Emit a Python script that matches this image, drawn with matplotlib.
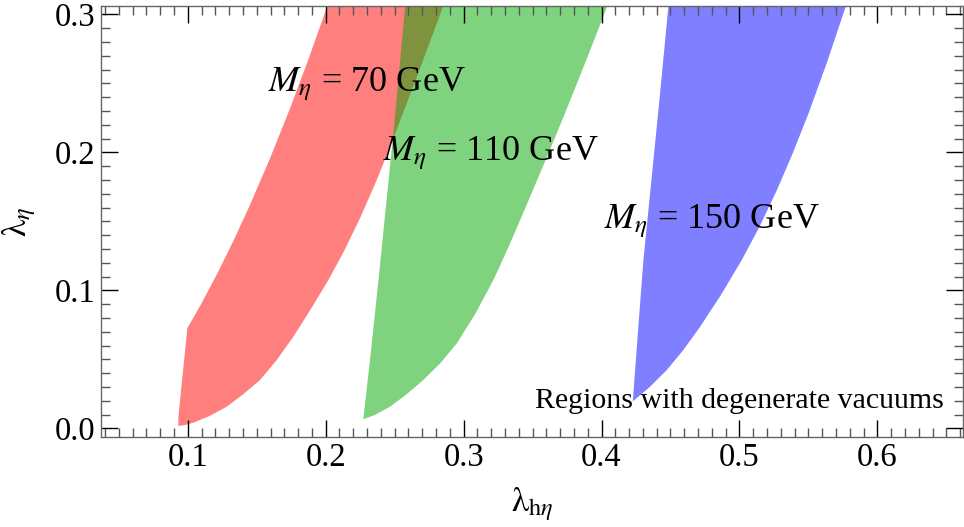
import matplotlib
matplotlib.use("Agg")
import matplotlib.pyplot as plt
from matplotlib.ticker import MultipleLocator, FormatStrFormatter

plt.rcParams['font.family'] = ['Liberation Serif', 'DejaVu Serif']
plt.rcParams['mathtext.fontset'] = 'stix'

# boundary points (lambda_h_eta, lambda_eta)
# M_eta = 70 GeV
red_left_x = [0.0932, 0.0932, 0.0997, 0.1100, 0.1210, 0.1330, 0.1452, 0.1597,
              0.1742, 0.1875, 0.2015]
red_left_y = [0.0017, 0.0084, 0.0725, 0.0906, 0.1114, 0.1356, 0.1621, 0.1958,
              0.2320, 0.2674, 0.3070]
red_right_x = [0.0932, 0.0980, 0.1041, 0.1160, 0.1283, 0.1400, 0.1524, 0.1645,
               0.1766, 0.1890, 0.2020, 0.2135, 0.2249, 0.2365, 0.2480, 0.2670,
               0.2856]
red_right_y = [0.0017, 0.0024, 0.0041, 0.0090, 0.0157, 0.0245, 0.0350, 0.0495,
               0.0664, 0.0860, 0.1075, 0.1288, 0.1523, 0.1787, 0.2074, 0.2570,
               0.3070]

# M_eta = 110 GeV
green_left_x = [0.2273, 0.2330, 0.2383, 0.2437, 0.2491, 0.2535, 0.2577]
green_left_y = [0.0065, 0.0575, 0.1075, 0.1610, 0.2138, 0.2610, 0.3070]
green_right_x = [0.2273, 0.2360, 0.2467, 0.2585, 0.2708, 0.2830, 0.2951, 0.3085,
                 0.3216, 0.3315, 0.3410, 0.3603, 0.3748, 0.3900, 0.4048]
green_right_y = [0.0065, 0.0098, 0.0157, 0.0245, 0.0350, 0.0470, 0.0616, 0.0830,
                 0.1075, 0.1290, 0.1509, 0.1963, 0.2315, 0.2695, 0.3075]

# M_eta = 150 GeV
blue_left_x = [0.4227, 0.4265, 0.4304, 0.4362, 0.4420, 0.4486]
blue_left_y = [0.0195, 0.0710, 0.1220, 0.1800, 0.2380, 0.3070]
blue_right_x = [0.4227, 0.4350, 0.4474, 0.4595, 0.4715, 0.4865, 0.5017, 0.5145,
                0.5271, 0.5385, 0.5500, 0.5635, 0.5775]
blue_right_y = [0.0195, 0.0300, 0.0423, 0.0570, 0.0736, 0.0965, 0.1220, 0.1460,
                0.1725, 0.1990, 0.2280, 0.2653, 0.3070]

labels = [r'$M_\eta$ = 70 GeV', r'$M_\eta$ = 110 GeV', r'$M_\eta$ = 150 GeV']
label_x = [0.1585, 0.2418, 0.4019]
label_y = [0.2446, 0.1944, 0.1449]


def region(ax, lx, ly, rx, ry, color):
    xs = list(lx) + list(rx)[::-1]
    ys = list(ly) + list(ry)[::-1]
    ax.fill(xs, ys, color=color, alpha=0.5, lw=0)


fig = plt.figure(figsize=(9.64, 5.27), dpi=100)
ax = fig.add_axes([101 / 964, 90 / 527, 862 / 964, 431 / 527])

region(ax, red_left_x, red_left_y, red_right_x, red_right_y, (1, 0, 0))
region(ax, green_left_x, green_left_y, green_right_x, green_right_y, (0, 0.66, 0))
region(ax, blue_left_x, blue_left_y, blue_right_x, blue_right_y, (0, 0, 1))

for t, x, y in zip(labels, label_x, label_y):
    ax.text(x, y, t, fontsize=26, ha='left', va='baseline')
ax.text(0.648, 0.0145, 'Regions with degenerate vacuums', fontsize=21.5,
        ha='right', va='baseline')

ax.set_xlim(0.0371, 0.6621)
ax.set_ylim(-0.0063, 0.3061)
ax.xaxis.set_major_locator(MultipleLocator(0.1))
ax.xaxis.set_minor_locator(MultipleLocator(0.01))
ax.yaxis.set_major_locator(MultipleLocator(0.1))
ax.yaxis.set_minor_locator(MultipleLocator(0.01))
ax.xaxis.set_major_formatter(FormatStrFormatter('%.1f'))
ax.yaxis.set_major_formatter(FormatStrFormatter('%.1f'))

ax.tick_params(which='both', direction='in', top=True, right=True,
               labelsize=23.5, pad=4)
ax.tick_params(which='major', length=12, width=1, color='black')
ax.tick_params(which='minor', length=6.3, width=1, color='#555555')
for s in ax.spines.values():
    s.set_color('#666666')
    s.set_linewidth(1)

ax.set_xlabel(r'$\mathrm{\lambda}_{\mathrm{h}\eta}$', fontsize=25, labelpad=9)
ax.set_ylabel(r'$\mathrm{\lambda}_{\eta}$', fontsize=25, labelpad=12)

fig.savefig('out.png', dpi=100)
